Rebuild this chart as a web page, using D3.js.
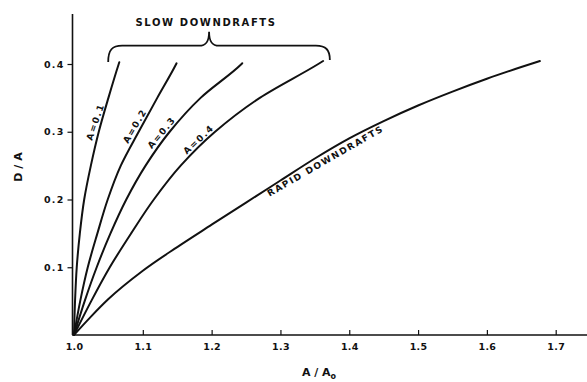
<!DOCTYPE html>
<html><head><meta charset="utf-8">
<script src="https://cdn.jsdelivr.net/npm/d3@7"></script>
<style>
html,body{margin:0;padding:0;background:#fff;}
svg{display:block;}
text{font-family:"DejaVu Sans",Arial,sans-serif;fill:#111;}
</style></head>
<body>
<svg id="chart" width="587" height="382"></svg>
<script>
// ---- data: [A/Ao, D/A] ----
const xTicks = [1.0, 1.1, 1.2, 1.3, 1.4, 1.5, 1.6, 1.7];
const yTicks = [0.1, 0.2, 0.3, 0.4];
const seriesNames = ["A=0.1", "A=0.2", "A=0.3", "A=0.4", "RAPID DOWNDRAFTS"];
const curveA01 = [[1.0,0],[1.0015,0.05],[1.004,0.1],[1.0085,0.15],[1.0148,0.2],[1.0245,0.25],[1.036,0.3],[1.050,0.35],[1.065,0.4],[1.0658,0.4025]];
const curveA02 = [[1.0,0],[1.009,0.05],[1.020,0.1],[1.034,0.15],[1.049,0.2],[1.068,0.25],[1.094,0.3],[1.121,0.35],[1.1485,0.4],[1.149,0.401]];
const curveA03 = [[1.0,0],[1.0155,0.05],[1.033,0.1],[1.053,0.15],[1.076,0.2],[1.104,0.25],[1.139,0.3],[1.184,0.35],[1.2435,0.4],[1.2445,0.401]];
const curveA04 = [[1.0,0],[1.025,0.05],[1.052,0.1],[1.083,0.15],[1.116,0.2],[1.155,0.25],[1.205,0.3],[1.27,0.35],[1.355,0.4],[1.362,0.4044]];
const curveRapid = [[1.0,0],[1.025,0.0275],[1.05,0.053],[1.1,0.0948],[1.15,0.1298],[1.2,0.1628],[1.25,0.1955],[1.3,0.228],[1.35,0.2605],[1.4,0.2902],[1.45,0.3157],[1.5,0.3387],[1.55,0.3592],[1.6,0.3782],[1.65,0.3955],[1.677,0.4044]];
const slowCurves = [curveA01, curveA02, curveA03, curveA04];
const allCurves = [curveA01, curveA02, curveA03, curveA04, curveRapid];
// where each label sits along its curve (D/A for slow curves, A/Ao for rapid) and its angle
const labelAt = [0.3118, 0.3041, 0.2930, 0.2822, 1.360];
const labelAngle = [-71, -60, -50, -43, -30];
// brace spanning the slow downdraft curves
const braceX = [1.0497, 1.1963, 1.3718];
const braceY = [0.4029, 0.427, 0.4477];
const braceTitle = "SLOW DOWNDRAFTS";

// ---- scales ----
const svg = d3.select("#chart");
const x = d3.scaleLinear().domain([1.0, 1.7]).range([74, 555.7]);
const y = d3.scaleLinear().domain([0, 0.4]).range([335, 64]);

// ---- axes ----
const xAxis = d3.axisBottom(x).tickValues(xTicks).tickFormat(d3.format(".1f"))
  .tickSizeInner(-5).tickSizeOuter(0).tickPadding(8);
const gx = svg.append("g").attr("transform", `translate(0,${y(0)})`).call(xAxis);
gx.select(".domain").attr("d", `M${x(1.0)-2},0H587`);
const yAxis = d3.axisLeft(y).tickValues(yTicks).tickFormat(d3.format(".1f"))
  .tickSizeInner(5).tickSizeOuter(0).tickPadding(3);
const gy = svg.append("g").attr("transform", `translate(${x(1.0)-1.5},0)`).call(yAxis);
gy.select(".domain").attr("d", `M0,${y(0)}V14`);
[gx, gy].forEach(g => {
  g.select(".domain").attr("stroke", "#111").attr("stroke-width", 1.6);
  g.selectAll(".tick line").attr("stroke", "#111").attr("stroke-width", 1.2);
  g.selectAll(".tick text").attr("font-size", 9.5).attr("font-weight", "bold")
    .attr("font-family", "DejaVu Sans, Arial, sans-serif").attr("fill", "#111");
});
gy.selectAll(".tick text").attr("letter-spacing", 1.2);
gx.selectAll(".tick text").attr("letter-spacing", 0.3);

// ---- curves ----
const lineSlow = d3.line().x(d => x(d[0])).y(d => y(d[1])).curve(d3.curveMonotoneY);
const lineRapid = d3.line().x(d => x(d[0])).y(d => y(d[1])).curve(d3.curveMonotoneX);
const gc = svg.append("g").attr("fill", "none").attr("stroke", "#111")
  .attr("stroke-width", 2).attr("stroke-linecap", "round");
gc.selectAll("path.slow").data(slowCurves).join("path").attr("class", "slow").attr("d", lineSlow);
gc.append("path").datum(curveRapid).attr("d", lineRapid);

// ---- curve labels (anchored on the curve, offset perpendicular) ----
function interp(curve, v, byY) {
  const a = byY ? 1 : 0, b = byY ? 0 : 1;
  for (let k = 1; k < curve.length; k++) {
    const p0 = curve[k - 1], p1 = curve[k];
    if (v >= p0[a] && v <= p1[a]) {
      const f = (v - p0[a]) / (p1[a] - p0[a]);
      return p0[b] + f * (p1[b] - p0[b]);
    }
  }
  return curve[curve.length - 1][b];
}
svg.append("g").selectAll("text").data(seriesNames).join("text")
  .attr("transform", (d, i) => {
    const c = allCurves[i];
    const px = i < 4 ? x(interp(c, labelAt[i], true)) : x(labelAt[i]);
    const py = i < 4 ? y(labelAt[i]) : y(interp(c, labelAt[i], false));
    return `translate(${px},${py}) rotate(${labelAngle[i]})`;
  })
  .attr("text-anchor", "middle")
  .attr("dy", (d, i) => i < 4 ? -3 : 10.5)
  .attr("font-size", 9).attr("font-weight", "bold")
  .attr("letter-spacing", (d, i) => i < 4 ? 1.6 : 1.6)
  .text(d => d);

// ---- brace ----
const bx0 = x(braceX[0]), bxm = x(braceX[1]), bx1 = x(braceX[2]);
const by0 = y(braceY[0]), byh = y(braceY[1]), byt = y(braceY[2]);
const r = 10;
const bracePath = d3.path();
bracePath.moveTo(bx0, by0);
bracePath.bezierCurveTo(bx0, byh + 4, bx0 + 4, byh, bx0 + r + 4, byh);
bracePath.lineTo(bxm - r, byh);
bracePath.bezierCurveTo(bxm - 3, byh, bxm, byh - 4, bxm, byt);
bracePath.bezierCurveTo(bxm, byh - 4, bxm + 3, byh, bxm + r, byh);
bracePath.lineTo(bx1 - r - 4, byh);
bracePath.bezierCurveTo(bx1 - 4, byh, bx1, byh + 4, bx1, by0 - 2);
svg.append("path").attr("d", bracePath.toString()).attr("fill", "none")
  .attr("stroke", "#111").attr("stroke-width", 1.8);
svg.append("text").attr("x", bxm - 3).attr("y", byt - 6)
  .attr("text-anchor", "middle").attr("font-size", 10).attr("font-weight", "bold")
  .attr("letter-spacing", 1.6).text(braceTitle);

// ---- axis titles ----
svg.append("text").attr("transform", `translate(22,167) rotate(-90)`)
  .attr("text-anchor", "middle").attr("font-size", 11).attr("font-weight", "bold")
  .text("D / A");
const xt = svg.append("text").attr("x", 319).attr("y", 376)
  .attr("text-anchor", "middle").attr("font-size", 11).attr("font-weight", "bold");
xt.append("tspan").text("A / A");
xt.append("tspan").attr("font-size", 8).attr("dy", 3).text("o");
</script>
</body></html>
